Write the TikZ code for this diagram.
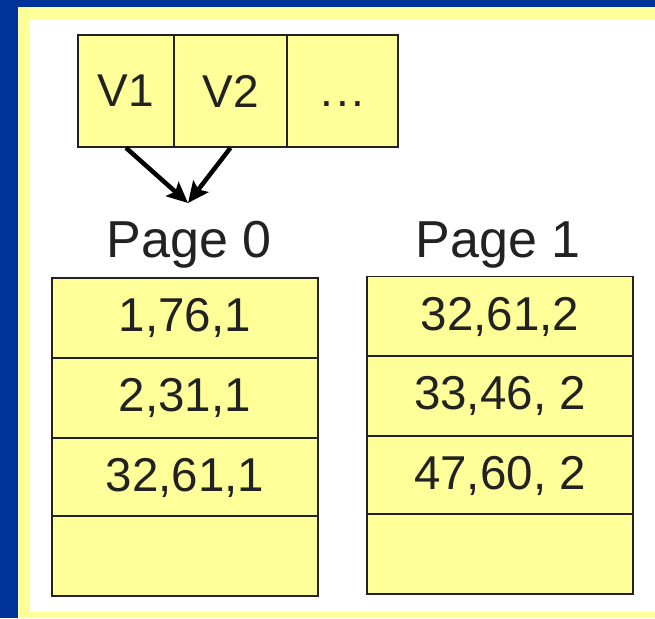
\documentclass[tikz,border=0pt]{standalone}
\usepackage{fontspec}
\setmainfont{Liberation Sans}
\usetikzlibrary{arrows.meta,positioning}
\definecolor{slideblue}{HTML}{003399}
\definecolor{cellyellow}{HTML}{FFFF99}
\definecolor{ink}{HTML}{222222}

\begin{document}
\begin{tikzpicture}[x=1pt,y=-1pt,
    cell/.style={draw=ink, line width=1.6pt, fill=cellyellow, text=ink,
                 minimum width=266pt, minimum height=80pt, inner sep=0pt,
                 font=\fontsize{47.5}{52}\selectfont},
    slot/.style={cell, minimum height=112pt, font=\fontsize{46}{50}\selectfont},
    pagelabel/.style={text=ink, inner sep=0pt, font=\fontsize{52}{58}\selectfont},
    ptr/.style={draw=black, line width=4.5pt,
                -{Stealth[length=21pt,width=19pt,inset=4pt]}}]
  \useasboundingbox (0,0) rectangle (655,618);
  % slide frame
  \fill[slideblue] (0,0) rectangle (655,618);
  \fill[cellyellow] (18,7) rectangle (655,618);
  \fill[white] (30,19) rectangle (655,612);

  % slot array
  \node[slot, minimum width=96pt]  (v1)   at (126,91)   {V1};
  \node[slot, minimum width=113pt] (v2)   at (230.5,91) {V2};
  \node[slot, minimum width=111pt] (more) at (342.5,91)
       {\vphantom{V1}.\kern3pt.\kern3pt.};

  \coordinate (tip) at (188,203);
  \draw[ptr] (v1.south) -- (tip);
  \draw[ptr] (v2.south) -- (tip);

  % page 0
  \node[pagelabel, anchor=base] (p0) at (189,257) {Page 0};
  \node[cell] (a1) at (185,318) {1,76,1};
  \node[cell] (a2) at (185,398) {2,31,1};
  \node[cell] (a3) at (185,478) {32,61,1};
  \node[cell] (a4) at (185,556) {};

  % page 1
  \node[pagelabel, anchor=base] (p1) at (498,257) {Page 1};
  \node[cell] (b1) at (500,316.5) {32,61,2};
  \node[cell] (b2) at (500,396)   {33,46, 2};
  \node[cell] (b3) at (500,476)   {47,60, 2};
  \node[cell] (b4) at (500,554)   {};
\end{tikzpicture}
\end{document}
